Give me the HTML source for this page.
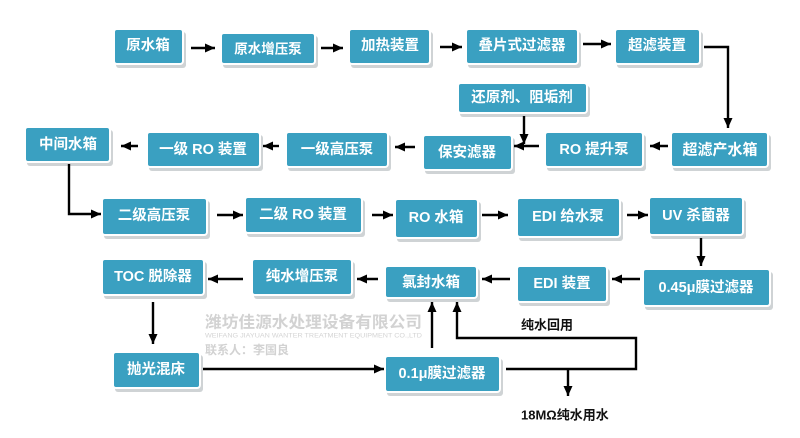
<!DOCTYPE html>
<html><head><meta charset="utf-8"><style>
html,body{margin:0;padding:0;background:#fff;}
svg{display:block;}
.t{font-family:"Liberation Sans","Noto Sans CJK SC",sans-serif;font-weight:bold;fill:#fff;text-anchor:middle;dominant-baseline:central;}
.b{font-family:"Liberation Sans","Noto Sans CJK SC",sans-serif;font-weight:bold;fill:#111;dominant-baseline:central;}
.w{font-family:"Liberation Sans","Noto Sans CJK SC",sans-serif;font-weight:bold;fill:#d2d2d2;dominant-baseline:central;}
.ln{stroke:#000;stroke-width:2.4;fill:none;}
</style></head><body>
<svg width="800" height="438" viewBox="0 0 800 438" xmlns="http://www.w3.org/2000/svg">
<defs>
<marker id="a" markerUnits="userSpaceOnUse" markerWidth="10" markerHeight="9" refX="10" refY="4.5" orient="auto">
<path d="M0,0 L10,4.5 L0,9 z" fill="#000"/>
</marker>
</defs>
<rect width="800" height="438" fill="#fff"/>

<!-- watermark -->
<text class="w" x="205" y="323" font-size="16" textLength="217" lengthAdjust="spacingAndGlyphs">潍坊佳源水处理设备有限公司</text>
<text x="205" y="336" font-family="Liberation Sans, sans-serif" font-size="6.5" fill="#d4d4d4" textLength="217" lengthAdjust="spacingAndGlyphs" dominant-baseline="central">WEIFANG JIAYUAN WANTER TREATMENT EQUIPMENT CO.,LTD</text>
<text class="w" x="205" y="350" font-size="12">联系人：李国良</text>

<g fill="#cfd3d5">
<rect x="116" y="32" width="70" height="36" rx="3"/>
<rect x="223" y="36" width="95" height="32" rx="3"/>
<rect x="351" y="32" width="82" height="36" rx="3"/>
<rect x="468" y="32" width="113" height="36" rx="3"/>
<rect x="617" y="32" width="86" height="36" rx="3"/>
<rect x="460" y="86" width="130" height="31" rx="3"/>
<rect x="673" y="135" width="98" height="36" rx="3"/>
<rect x="547" y="135" width="99" height="36" rx="3"/>
<rect x="425" y="138" width="90" height="36" rx="3"/>
<rect x="288" y="135" width="103" height="36" rx="3"/>
<rect x="149" y="135" width="114" height="36" rx="3"/>
<rect x="27" y="130" width="86" height="36" rx="3"/>
<rect x="104" y="201" width="106" height="38" rx="3"/>
<rect x="247" y="200" width="118" height="37" rx="3"/>
<rect x="397" y="202" width="84" height="40" rx="3"/>
<rect x="519" y="201" width="104" height="40" rx="3"/>
<rect x="651" y="200" width="95" height="39" rx="3"/>
<rect x="645" y="272" width="128" height="38" rx="3"/>
<rect x="519" y="269" width="91" height="37" rx="3"/>
<rect x="387" y="269" width="93" height="33" rx="3"/>
<rect x="254" y="262" width="101" height="37" rx="3"/>
<rect x="104" y="262" width="103" height="37" rx="3"/>
<rect x="115" y="355" width="88" height="37" rx="3"/>
<rect x="387" y="359" width="116" height="37" rx="3"/>
</g>

<g fill="#3aa0c1" stroke="#fff" stroke-width="2">
<rect x="114" y="29" width="69" height="35" rx="3"/>
<rect x="221" y="33" width="94" height="31" rx="3"/>
<rect x="349" y="29" width="81" height="35" rx="3"/>
<rect x="466" y="29" width="112" height="35" rx="3"/>
<rect x="615" y="29" width="85" height="35" rx="3"/>
<rect x="458" y="83" width="129" height="30" rx="3"/>
<rect x="671" y="132" width="97" height="35" rx="3"/>
<rect x="545" y="132" width="98" height="35" rx="3"/>
<rect x="423" y="135" width="89" height="35" rx="3"/>
<rect x="286" y="132" width="102" height="35" rx="3"/>
<rect x="147" y="132" width="113" height="35" rx="3"/>
<rect x="25" y="127" width="85" height="35" rx="3"/>
<rect x="102" y="198" width="105" height="37" rx="3"/>
<rect x="245" y="197" width="117" height="36" rx="3"/>
<rect x="395" y="199" width="83" height="39" rx="3"/>
<rect x="517" y="198" width="103" height="39" rx="3"/>
<rect x="649" y="197" width="94" height="38" rx="3"/>
<rect x="643" y="269" width="127" height="37" rx="3"/>
<rect x="517" y="266" width="90" height="36" rx="3"/>
<rect x="385" y="266" width="92" height="32" rx="3"/>
<rect x="252" y="259" width="100" height="36" rx="3"/>
<rect x="102" y="259" width="102" height="36" rx="3"/>
<rect x="113" y="352" width="87" height="36" rx="3"/>
<rect x="385" y="356" width="115" height="36" rx="3"/>
</g>

<g class="t" font-size="14.5">
<text class="t" x="148" y="46">原水箱</text>
<text class="t" x="268" y="49" font-size="13.5">原水增压泵</text>
<text class="t" x="390" y="46">加热装置</text>
<text class="t" x="522" y="46">叠片式过滤器</text>
<text class="t" x="657" y="46">超滤装置</text>
<text class="t" x="522" y="98">还原剂、阻垢剂</text>
<text class="t" x="720" y="150" font-size="15">超滤产水箱</text>
<text class="t" x="594" y="150">RO 提升泵</text>
<text class="t" x="467" y="153">保安滤器</text>
<text class="t" x="337" y="150">一级高压泵</text>
<text class="t" x="203" y="150">一级 RO 装置</text>
<text class="t" x="68" y="145">中间水箱</text>
<text class="t" x="154" y="216">二级高压泵</text>
<text class="t" x="303" y="215">二级 RO 装置</text>
<text class="t" x="436" y="218">RO 水箱</text>
<text class="t" x="568" y="217">EDI 给水泵</text>
<text class="t" x="696" y="216">UV 杀菌器</text>
<text class="t" x="706" y="288">0.45μ膜过滤器</text>
<text class="t" x="562" y="284">EDI 装置</text>
<text class="t" x="431" y="283">氯封水箱</text>
<text class="t" x="302" y="277">纯水增压泵</text>
<text class="t" x="153" y="277">TOC 脱除器</text>
<text class="t" x="156" y="370">抛光混床</text>
<text class="t" x="442" y="374">0.1μ膜过滤器</text>
</g>

<!-- connectors -->
<g class="ln">
<line x1="191" y1="48" x2="215" y2="48" marker-end="url(#a)"/>
<line x1="321" y1="48" x2="343" y2="48" marker-end="url(#a)"/>
<line x1="440" y1="47" x2="462" y2="47" marker-end="url(#a)"/>
<line x1="583" y1="44" x2="611" y2="44" marker-end="url(#a)"/>
<polyline points="704,47 728,47 728,128" marker-end="url(#a)"/>
<line x1="668" y1="146" x2="650" y2="146" marker-end="url(#a)"/>
<line x1="539" y1="146" x2="514" y2="146" marker-end="url(#a)"/>
<line x1="524" y1="116" x2="524" y2="144" marker-end="url(#a)"/>
<line x1="415" y1="147" x2="395" y2="147" marker-end="url(#a)"/>
<line x1="279" y1="146" x2="263" y2="146" marker-end="url(#a)"/>
<line x1="138" y1="146" x2="121" y2="146" marker-end="url(#a)"/>
<polyline points="69,164 69,214 101,214" marker-end="url(#a)"/>
<line x1="217" y1="215" x2="243" y2="215" marker-end="url(#a)"/>
<line x1="372" y1="215" x2="393" y2="215" marker-end="url(#a)"/>
<line x1="482" y1="215" x2="508" y2="215" marker-end="url(#a)"/>
<line x1="627" y1="215" x2="648" y2="215" marker-end="url(#a)"/>
<line x1="701" y1="238" x2="701" y2="266" marker-end="url(#a)"/>
<line x1="640" y1="279" x2="612" y2="279" marker-end="url(#a)"/>
<line x1="510" y1="279" x2="482" y2="279" marker-end="url(#a)"/>
<line x1="378" y1="279" x2="357" y2="279" marker-end="url(#a)"/>
<line x1="243" y1="279" x2="208" y2="279" marker-end="url(#a)"/>
<line x1="153" y1="302" x2="153" y2="344" marker-end="url(#a)"/>
<line x1="203" y1="369" x2="384" y2="369" marker-end="url(#a)"/>
<line x1="432" y1="348" x2="432" y2="302" marker-end="url(#a)"/>
<polyline points="506,369 636,369 636,338 457,338 457,302" marker-end="url(#a)"/>
<line x1="568" y1="369" x2="568" y2="396" marker-end="url(#a)"/>
</g>

<text class="b" x="521" y="325" font-size="13">纯水回用</text>
<text class="b" x="521" y="415" font-size="13">18MΩ纯水用水</text>
</svg>
</body></html>
